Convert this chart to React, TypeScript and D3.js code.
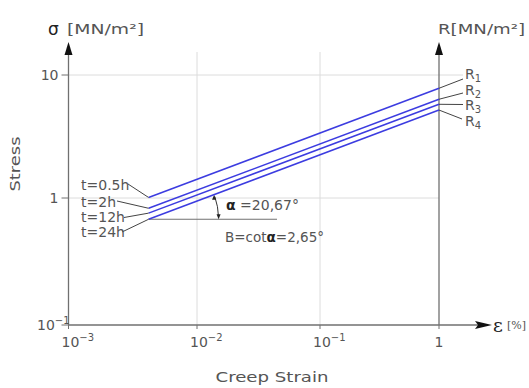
import * as d3 from "d3";

// creep strain decades (%) and stress decades (MN/m²)
const strainTicks = [1e-3, 1e-2, 1e-1, 1];
const strainTickBase = ["10", "10", "10", "1"];
const strainTickExp = ["−3", "−2", "−1", ""];
const stressTicks = [0.1, 1, 10];
const stressTickBase = ["10", "1", "10"];
const stressTickExp = ["−1", "", ""];

// isochronous stress lines
const durations = ["t=0.5h", "t=2h", "t=12h", "t=24h"];
const ruptureIdx = ["1", "2", "3", "4"];
const strainStart = 0.0042;
const strainEnd = 1;
const stressAtStart = [1.01, 0.83, 0.76, 0.68];
const stressAtEnd = [7.8, 6.35, 5.78, 5.19];
const alphaText = "20,67°";
const betaText = "2,65°";

const W = 529;
const H = 388;
const FONT = "'DejaVu Sans', sans-serif";
const TXT = "#555";
const AX = "#707070";
const GRID = "#dcdcdc";
const BLUE = "#3c3ce0";

// label layout (left: y centre + leader start; right: y centre + leader end)
const leftLabelY = [185, 202, 217.5, 232.5];
const leftLeader = [[128, 184], [117, 201], [124, 217.5], [122, 232]];
const rightLabelY = [74, 90.5, 105, 121.5];
const rightLeader = [[463, 79], [463, 93], [463, 104.5], [462, 119]];

export default function App() {
  const x = d3.scaleLog().domain(strainTicks).range([68.5, 197, 320, 439]);
  const y = d3.scaleLog().domain(stressTicks).range([325, 198, 75]);

  const x0 = x(1e-3);
  const xR = x(1);
  const y0 = y(0.1);
  const topY = 42;

  const lineGen = d3.line<[number, number]>()
    .x((d) => x(d[0]))
    .y((d) => y(d[1]));

  // angle construction at the start of the lowest line
  const last = stressAtStart.length - 1;
  const cx = x(strainStart);
  const cy = y(stressAtStart[last]);
  const ang = Math.atan2(cy - y(stressAtEnd[last]), x(strainEnd) - cx);
  const r = 70;
  const arc = d3.path();
  arc.arc(cx, cy, r, -ang + 0.03, -0.03, false);
  const ax1 = cx + r * Math.cos(ang);
  const ay1 = cy - r * Math.sin(ang);
  const ax2 = cx + r;
  const ay2 = cy;

  const upArrow = (px: number) =>
    `M${px},${topY} L${px - 4},${topY + 13} L${px + 4},${topY + 13} Z`;

  return (
    <svg width={W} height={H} style={{ position: "absolute", left: 0, top: 0, background: "#fff" }}>
      {/* grid */}
      {strainTicks.slice(1, 3).map((t, i) => (
        <line key={"gx" + i} x1={x(t)} x2={x(t)} y1={52} y2={y0} stroke={GRID} strokeWidth={1} />
      ))}
      <line x1={x0} x2={463} y1={y(10)} y2={y(10)} stroke={GRID} strokeWidth={1} />
      <line x1={x0} x2={xR} y1={y(1)} y2={y(1)} stroke={GRID} strokeWidth={1} />

      {/* axes */}
      <line x1={x0} x2={x0} y1={y0} y2={topY + 10} stroke={AX} strokeWidth={1.3} />
      <line x1={xR} x2={xR} y1={y0} y2={topY + 10} stroke={AX} strokeWidth={1.3} />
      <line x1={x0} x2={480} y1={y0} y2={y0} stroke={AX} strokeWidth={1.3} />
      <path d={upArrow(x0)} fill="#111" />
      <path d={upArrow(xR)} fill="#111" />
      <path d={`M492,${y0} L475,${y0 - 4} L478,${y0} L475,${y0 + 4} Z`} fill="#111" />

      {/* y ticks */}
      {stressTicks.map((t, i) => (
        <g key={"yt" + i}>
          <line x1={x0 - 7} x2={x0} y1={y(t)} y2={y(t)} stroke={AX} strokeWidth={1} />
          <text
            x={i === 0 ? 37 : x0 - 10}
            y={y(t)}
            dy="0.35em"
            textAnchor={i === 0 ? "start" : "end"}
            fontFamily={FONT}
            fontSize={14}
            fill={TXT}
          >
            {stressTickBase[i]}
            {stressTickExp[i] && (
              <tspan fontSize={10} dy="-0.55em">{stressTickExp[i]}</tspan>
            )}
          </text>
        </g>
      ))}

      {/* x ticks */}
      {strainTicks.map((t, i) => (
        <g key={"xt" + i}>
          <line x1={x(t)} x2={x(t)} y1={y0} y2={y0 + 4} stroke={AX} strokeWidth={1} />
          <text
            x={strainTickExp[i] ? x(t) - 7 : x(t)}
            y={342}
            dy="0.35em"
            textAnchor={strainTickExp[i] ? "start" : "middle"}
            fontFamily={FONT}
            fontSize={14}
            fill={TXT}
          >
            {strainTickBase[i]}
            {strainTickExp[i] && (
              <tspan fontSize={10} dy="-0.55em">{strainTickExp[i]}</tspan>
            )}
          </text>
        </g>
      ))}

      {/* titles */}
      <text x={48} y={29} dy="0.35em" fontFamily={FONT} fontSize={17} fill="#222">σ</text>
      <text x={67} y={29} dy="0.35em" fontFamily={FONT} fontSize={14} fill={TXT} textLength={77} lengthAdjust="spacingAndGlyphs">[MN/m²]</text>
      <text x={438} y={29} dy="0.35em" fontFamily={FONT} fontSize={14} fill={TXT} textLength={87} lengthAdjust="spacingAndGlyphs">R[MN/m²]</text>
      <text x={493} y={y0} dy="0.35em" fontFamily="'DejaVu Serif', serif" fontSize={19} fill="#222">ε</text>
      <text x={507} y={y0} dy="0.35em" fontFamily="'DejaVu Serif', serif" fontSize={11} fill={TXT}>[%]</text>
      <text x={272} y={377} dy="0.35em" textAnchor="middle" fontFamily={FONT} fontSize={14} fill={TXT} textLength={113} lengthAdjust="spacingAndGlyphs">Creep Strain</text>
      <text transform="translate(15,164) rotate(-90)" dy="0.35em" textAnchor="middle" fontFamily={FONT} fontSize={14} fill={TXT} textLength={55} lengthAdjust="spacingAndGlyphs">Stress</text>

      {/* horizontal reference + angle */}
      <line x1={cx} x2={277} y1={cy} y2={cy} stroke={AX} strokeWidth={1.2} />
      <path d={arc.toString()} fill="none" stroke="#333" strokeWidth={1} />
      <path d={`M${ax1},${ay1} l-2,5 l4,0 Z`} fill="#222" />
      <path d={`M${ax2},${ay2} l-2,-5 l4,0 Z`} fill="#222" />

      {/* stress lines */}
      {stressAtStart.map((s, i) => (
        <path
          key={"ln" + i}
          d={lineGen([[strainStart, s], [strainEnd, stressAtEnd[i]]]) || ""}
          fill="none"
          stroke={BLUE}
          strokeWidth={1.5}
        />
      ))}

      {/* left duration labels */}
      {durations.map((d, i) => (
        <g key={"dl" + i}>
          <line x1={leftLeader[i][0]} y1={leftLeader[i][1]} x2={x(strainStart)} y2={y(stressAtStart[i])} stroke="#444" strokeWidth={1} />
          <text x={81} y={leftLabelY[i]} dy="0.35em" fontFamily={FONT} fontSize={14} fill={TXT}>{d}</text>
        </g>
      ))}

      {/* right rupture labels */}
      {ruptureIdx.map((k, i) => (
        <g key={"rl" + i}>
          <line x1={xR} y1={y(stressAtEnd[i])} x2={rightLeader[i][0]} y2={rightLeader[i][1]} stroke="#444" strokeWidth={1} />
          <text x={465} y={rightLabelY[i]} dy="0.35em" fontFamily={FONT} fontSize={14} fill={TXT}>
            R<tspan fontSize={10} dy="0.3em">{k}</tspan>
          </text>
        </g>
      ))}

      {/* angle texts */}
      <text x={226} y={205} dy="0.35em" fontFamily={FONT} fontSize={14} fill={TXT}>
        <tspan fontWeight="bold" fill="#222">α</tspan> ={alphaText}
      </text>
      <text x={225} y={237} dy="0.35em" fontFamily={FONT} fontSize={13.5} fill={TXT}>
        B=cot<tspan fontWeight="bold" fill="#222">α</tspan>={betaText}
      </text>
    </svg>
  );
}
